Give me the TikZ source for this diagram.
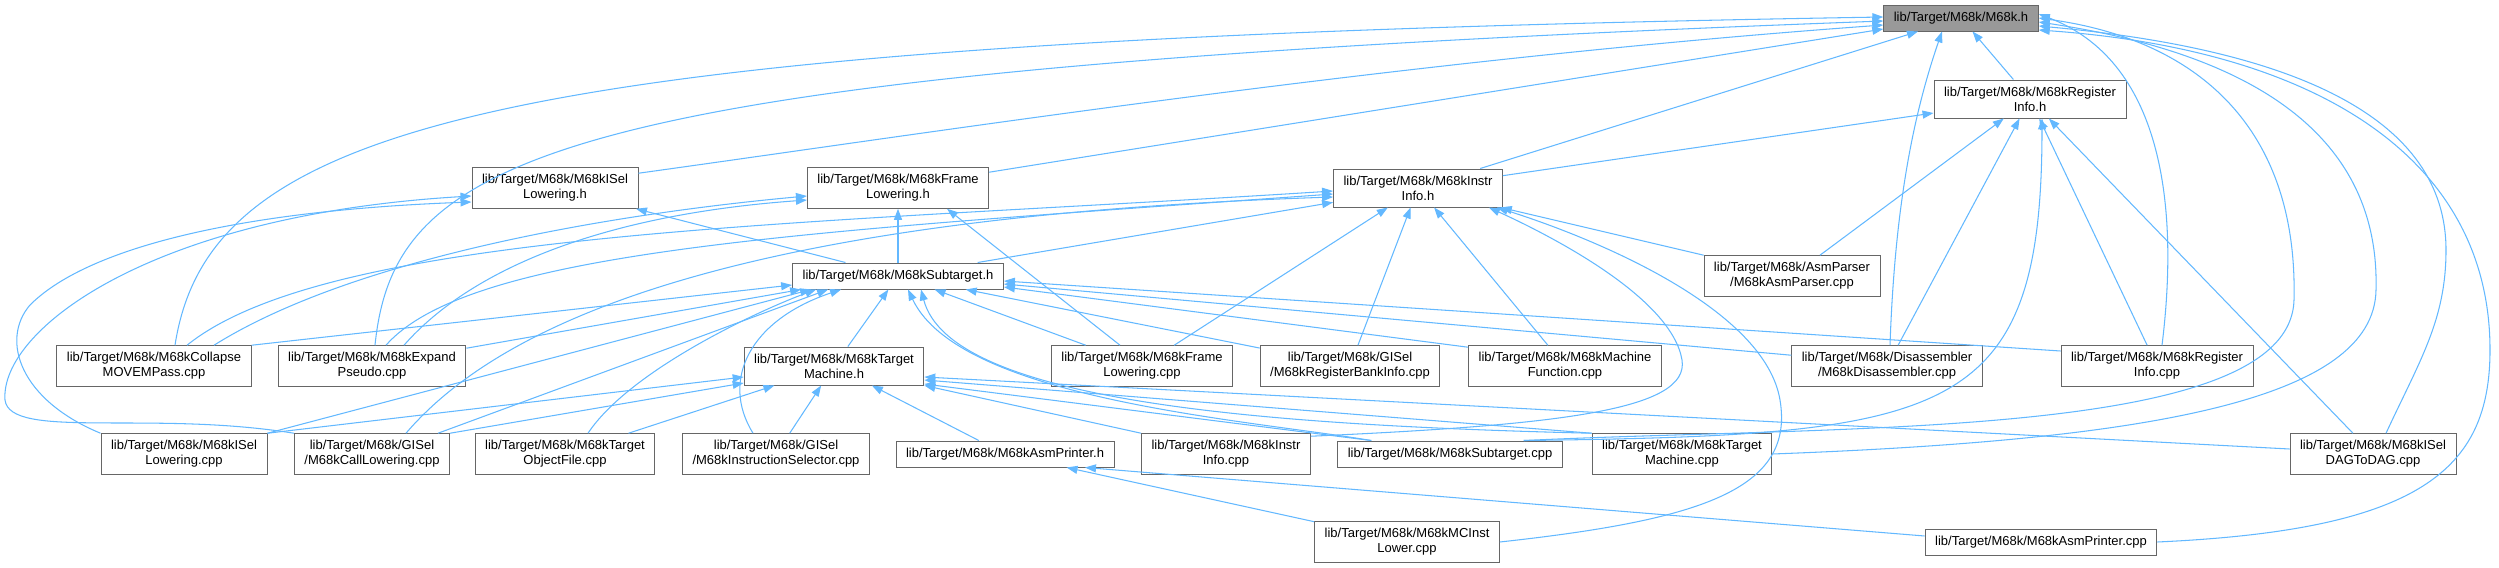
\documentclass[tikz,border=0pt]{standalone}
\usepackage{fontspec}
\setmainfont{Liberation Sans}
\usetikzlibrary{arrows.meta,calc}
\definecolor{depblue}{HTML}{63B8FF}
\definecolor{boxgray}{HTML}{666666}
\definecolor{mainfill}{HTML}{999999}

\begin{document}
\begin{tikzpicture}[x=0.02cm,y=-0.02cm,
  font=\fontsize{7.4}{8.4}\selectfont,
  filebox/.style={draw=boxgray,fill=white,line width=0.55pt,align=center,inner xsep=0.2cm,inner ysep=3.9pt,minimum height=0.52cm},
  incl/.style={-{Triangle[length=0.22cm,width=0.16cm]},draw=depblue,line width=0.6pt}
]
\useasboundingbox (0,0) rectangle (2499,568);
% headers
\node[filebox,fill=mainfill] (m68kh) at (1961,18) {lib/Target/M68k/M68k.h};
\node[filebox] (reginfoh) at (2030,99) {lib/Target/M68k/M68kRegister\\Info.h};
\node[filebox] (instrinfoh) at (1418,188) {lib/Target/M68k/M68kInstr\\Info.h};
\node[filebox] (isellowh) at (555,188) {lib/Target/M68k/M68kISel\\Lowering.h};
\node[filebox] (framelowh) at (898,188) {lib/Target/M68k/M68kFrame\\Lowering.h};
\node[filebox] (subtargeth) at (898,276) {lib/Target/M68k/M68kSubtarget.h};
\node[filebox] (asmparser) at (1792,276) {lib/Target/M68k/AsmParser\\/M68kAsmParser.cpp};
\node[filebox] (targetmachh) at (834,366) {lib/Target/M68k/M68kTarget\\Machine.h};
\node[filebox] (asmprinterh) at (1005,454) {lib/Target/M68k/M68kAsmPrinter.h};
% row of sources
\node[filebox] (collapse) at (154,366) {lib/Target/M68k/M68kCollapse\\MOVEMPass.cpp};
\node[filebox] (expand) at (372,366) {lib/Target/M68k/M68kExpand\\Pseudo.cpp};
\node[filebox] (framelowcpp) at (1142,366) {lib/Target/M68k/M68kFrame\\Lowering.cpp};
\node[filebox] (regbank) at (1350,366) {lib/Target/M68k/GISel\\/M68kRegisterBankInfo.cpp};
\node[filebox] (machfunc) at (1565,366) {lib/Target/M68k/M68kMachine\\Function.cpp};
\node[filebox] (disasm) at (1887,366) {lib/Target/M68k/Disassembler\\/M68kDisassembler.cpp};
\node[filebox] (reginfocpp) at (2157,366) {lib/Target/M68k/M68kRegister\\Info.cpp};
\node[filebox] (isellowcpp) at (184,454) {lib/Target/M68k/M68kISel\\Lowering.cpp};
\node[filebox] (calllow) at (372,454) {lib/Target/M68k/GISel\\/M68kCallLowering.cpp};
\node[filebox] (targetobj) at (565,454) {lib/Target/M68k/M68kTarget\\ObjectFile.cpp};
\node[filebox] (instsel) at (776,454) {lib/Target/M68k/GISel\\/M68kInstructionSelector.cpp};
\node[filebox] (instrinfocpp) at (1226,454) {lib/Target/M68k/M68kInstr\\Info.cpp};
\node[filebox] (subtargetcpp) at (1450,454) {lib/Target/M68k/M68kSubtarget.cpp};
\node[filebox] (targetmachcpp) at (1682,454) {lib/Target/M68k/M68kTarget\\Machine.cpp};
\node[filebox] (dagtodag) at (2373,454) {lib/Target/M68k/M68kISel\\DAGToDAG.cpp};
\node[filebox] (mcinstlower) at (1407,542) {lib/Target/M68k/M68kMCInst\\Lower.cpp};
\node[filebox] (asmprintercpp) at (2041,542) {lib/Target/M68k/M68kAsmPrinter.cpp};
% into M68k.h
\draw[incl] ($(collapse.north)+(21,0)$) .. controls (210,120) and (500,40) .. ($(m68kh.west)+(0,-1)$);
\draw[incl] ($(expand.north)+(3,0)$) .. controls (395,150) and (560,70) .. ($(m68kh.west)+(0,3)$);
\draw[incl] ($(isellowh.north east)+(0,6)$) .. controls (950,130) and (1400,60) .. ($(m68kh.west)+(0,7)$);
\draw[incl] ($(framelowh.north east)+(0,5)$) -- ($(m68kh.west)+(0,11)$);
\draw[incl] (instrinfoh) -- (m68kh);
\draw[incl] (reginfoh) -- (m68kh);
\draw[incl] ($(disasm.north)+(3,0)$) .. controls (1895,200) and (1915,110) .. ($(m68kh.south)+(-19,0)$);
\draw[incl] ($(reginfocpp.north)+(5,0)$) .. controls (2180,200) and (2160,60) .. ($(m68kh.east)+(0,-4)$);
\draw[incl] ($(subtargetcpp.north east)+(-39,0)$) .. controls (1850,425) and (2290,440) .. (2294,300) .. controls (2298,130) and (2200,40) .. (m68kh.east);
\draw[incl] (targetmachcpp.east) .. controls (2150,440) and (2374,400) .. (2376,290) .. controls (2380,140) and (2260,55) .. ($(m68kh.east)+(0,4)$);
\draw[incl] ($(dagtodag.north)+(13,0)$) .. controls (2420,360) and (2446,320) .. (2446,250) .. controls (2446,120) and (2300,50) .. ($(m68kh.east)+(0,8)$);
\draw[incl] (asmprintercpp.east) .. controls (2420,530) and (2490,470) .. (2490,350) .. controls (2490,160) and (2320,50) .. ($(m68kh.east)+(0,12)$);
% into M68kRegisterInfo.h
\draw[incl] (instrinfoh) -- (reginfoh);
\draw[incl] (asmparser) -- (reginfoh);
\draw[incl] (disasm) -- (reginfoh);
\draw[incl] ($(subtargetcpp.north east)+(-39,0)$) .. controls (1950,435) and (2042,420) .. ($(reginfoh.south)+(12,0)$);
\draw[incl] (reginfocpp) -- (reginfoh);
\draw[incl] (dagtodag) -- (reginfoh);
% into M68kInstrInfo.h
\draw[incl] ($(collapse.north)+(33,0)$) .. controls (330,230) and (800,225) .. ($(instrinfoh.west)+(0,3)$);
\draw[incl] ($(expand.north)+(14,0)$) .. controls (470,250) and (800,232) .. ($(instrinfoh.west)+(0,6)$);
\draw[incl] ($(calllow.north)+(34,0)$) .. controls (520,300) and (800,215) .. ($(instrinfoh.west)+(0,9)$);
\draw[incl] (subtargeth) -- (instrinfoh);
\draw[incl] (framelowcpp) -- (instrinfoh);
\draw[incl] (regbank) -- (instrinfoh);
\draw[incl] (machfunc) -- (instrinfoh);
\draw[incl] (asmparser) -- (instrinfoh);
\draw[incl] ($(instrinfocpp.north east)+(0,3)$) .. controls (1560,425) and (1690,410) .. (1682,360) .. controls (1672,300) and (1560,240) .. ($(instrinfoh.south east)+(-14,0)$);
\draw[incl] (mcinstlower.east) .. controls (1700,520) and (1795,490) .. (1780,400) .. controls (1765,310) and (1600,240) .. ($(instrinfoh.south east)+(-6,0)$);
% into M68kISelLowering.h
\draw[incl] (isellowcpp.north west) .. controls (20,400) and (0,340) .. (30,305) .. controls (90,245) and (250,210) .. ($(isellowh.west)+(0,14)$);
\draw[incl] (calllow.north west) .. controls (150,410) and (10,440) .. (5,400) .. controls (0,330) and (150,215) .. ($(isellowh.west)+(0,8)$);
\draw[incl] (subtargeth) -- (isellowh);
% into M68kFrameLowering.h
\draw[incl] ($(collapse.north)+(60,0)$) .. controls (350,260) and (600,215) .. ($(framelowh.west)+(0,8)$);
\draw[incl] ($(expand.north)+(32,0)$) .. controls (470,270) and (600,215) .. ($(framelowh.west)+(0,12)$);
\draw[incl] (subtargeth) -- (framelowh);
\draw[incl] ($(framelowcpp.north)+(-22,0)$) -- ($(framelowh.south)+(49,0)$);
% into M68kSubtarget.h
\draw[incl] (collapse.north east) -- ($(subtargeth.west)+(0,9)$);
\draw[incl] ($(expand.north east)+(0,3)$) -- ($(subtargeth.south west)+(9,0)$);
\draw[incl] (isellowcpp.north east) -- ($(subtargeth.south west)+(19,0)$);
\draw[incl] ($(calllow.north)+(66,0)$) -- ($(subtargeth.south west)+(36,0)$);
\draw[incl] ($(targetobj.north)+(23,0)$) .. controls (630,370) and (760,310) .. ($(subtargeth.south west)+(24,0)$);
\draw[incl] ($(instsel.north)+(-23,0)$) .. controls (720,380) and (750,320) .. ($(subtargeth.south west)+(49,0)$);
\draw[incl] (targetmachh) -- (subtargeth);
\draw[incl] ($(subtargetcpp.north west)+(34,0)$) .. controls (1250,420) and (960,400) .. ($(subtargeth.south)+(10,0)$);
\draw[incl] (targetmachcpp.north west) .. controls (1250,425) and (950,400) .. ($(subtargeth.south)+(23,0)$);
\draw[incl] (framelowcpp) -- (subtargeth);
\draw[incl] (regbank) -- (subtargeth);
\draw[incl] ($(machfunc.north west)+(0,2)$) -- ($(subtargeth.east)+(0,11)$);
\draw[incl] ($(disasm.north west)+(0,10)$) -- ($(subtargeth.east)+(0,8)$);
\draw[incl] ($(reginfocpp.west)+(0,-15)$) -- ($(subtargeth.east)+(0,5)$);
% into M68kTargetMachine.h
\draw[incl] (isellowcpp.north east) -- ($(targetmachh.west)+(0,11)$);
\draw[incl] (calllow.north east) -- ($(targetmachh.west)+(0,17)$);
\draw[incl] (targetobj) -- (targetmachh);
\draw[incl] (instsel) -- (targetmachh);
\draw[incl] (asmprinterh) -- (targetmachh);
\draw[incl] (instrinfocpp.north west) -- (targetmachh.south east);
\draw[incl] ($(subtargetcpp.north west)+(34,0)$) -- ($(targetmachh.east)+(0,18)$);
\draw[incl] (targetmachcpp.north west) -- ($(targetmachh.east)+(0,14)$);
\draw[incl] ($(dagtodag.west)+(0,-5)$) -- ($(targetmachh.east)+(0,11)$);
% into M68kAsmPrinter.h
\draw[incl] (mcinstlower) -- (asmprinterh);
\draw[incl] ($(asmprintercpp.west)+(0,-6)$) -- ($(asmprinterh.south)+(80,0)$);
\end{tikzpicture}
\end{document}
